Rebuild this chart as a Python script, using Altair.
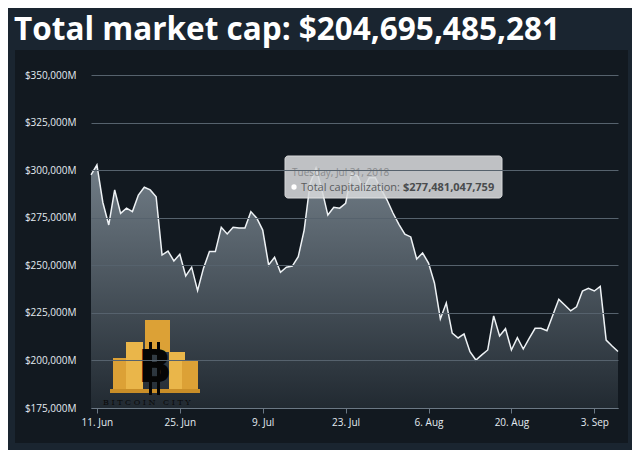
import altair as alt
import pandas as pd

# ---- data (values in $ millions, daily from 10 Jun 2018) ----
START_DATE = "2018-06-10"
MARKET_CAP_M = [
    297500, 302700, 283000, 271200, 289600, 277300, 280000, 278200, 286900, 291000,
    289600, 286000, 255400, 257500, 252300, 255800, 244400, 249000, 236700, 248500,
    257200, 257200, 270000, 266500, 270000, 269600, 269600, 278200, 274700, 268500,
    250200, 254200, 246300, 249000, 249600, 254500, 268500, 293000, 301000, 289600,
    276400, 280500, 280000, 282600, 298000, 297000, 290000, 296000, 296000, 290000,
    284300, 277481, 271500, 266400, 264900, 253300, 256500, 251200, 240700, 221800,
    230200, 214400, 211800, 213900, 204600, 200200, 202900, 205500, 223400, 212900,
    216700, 205500, 212000, 206000, 211600, 216900, 216900, 215600, 223900, 232100,
    229100, 226100, 228200, 236500, 237900, 236500, 238900, 210700, 207600, 204695,
]
Y_TICKS = [175000, 200000, 225000, 250000, 275000, 300000, 325000, 350000]
X_TICK_DAYS = [(6, 11), (6, 25), (7, 9), (7, 23), (8, 6), (8, 20), (9, 3)]
TITLE = "Total market cap: $204,695,485,281"
TIP_DATE = "Tuesday, Jul 31, 2018"
TIP_LABEL = "Total capitalization:"
TIP_VALUE = "$277,481,047,759"
LOGO_TEXT = "\u00a0".join("BITCOIN") + "\u00a0\u00a0\u00a0" + "\u00a0".join("CITY")

dates = pd.date_range(START_DATE, periods=len(MARKET_CAP_M), freq="D")
df = pd.DataFrame({"date": dates.strftime("%Y-%m-%d"), "cap": MARKET_CAP_M})
one = pd.DataFrame({"k": [0]})

FONT = "Open Sans"
LABEL_COLOR = "#e4ebf1"

x_enc = alt.X(
    "date:T",
    scale=alt.Scale(
        type="utc",
        domain=[alt.DateTime(year=2018, month=6, date=10, utc=True),
                alt.DateTime(year=2018, month=9, date=7, utc=True)],
        nice=False,
    ),
    axis=alt.Axis(
        values=[alt.DateTime(year=2018, month=m, date=d, utc=True) for m, d in X_TICK_DAYS],
        labelExpr="utcFormat(datum.value, '%-d. %b')",
        grid=False, domainColor="#6b7884", tickColor="#6b7884", tickSize=5,
        labelColor=LABEL_COLOR, labelFontSize=10, labelFont=FONT, labelPadding=4,
        zindex=1,
    ),
    title=None,
)
y_enc = alt.Y(
    "cap:Q",
    scale=alt.Scale(domain=[175000, 350000], nice=False, zero=False),
    axis=alt.Axis(
        values=Y_TICKS,
        labelExpr="'$' + format(datum.value, ',') + 'M'",
        ticks=False, domain=False, gridColor="#56626d", gridWidth=1,
        labelColor=LABEL_COLOR, labelFontSize=10, labelFont=FONT, labelPadding=15,
        zindex=1,
    ),
    title=None,
)


def rect(x, x2, y, y2, color, opacity=1.0, radius=0, stroke=None):
    kw = dict(color=color, opacity=opacity, cornerRadius=radius)
    if stroke:
        kw.update(stroke=stroke, strokeWidth=1)
    return alt.Chart(one).mark_rect(**kw).encode(
        x=alt.value(x), x2=alt.value(x2), y=alt.value(y), y2=alt.value(y2))


def text(x, y, s, size, color, weight="normal", font=FONT, align="left", baseline="alphabetic"):
    return alt.Chart(one).mark_text(
        fontSize=size, color=color, fontWeight=weight, font=font,
        align=align, baseline=baseline,
    ).encode(x=alt.value(x), y=alt.value(y), text=alt.value(s))


panel = rect(-76, 537, -25, 368, "#121920")

area = alt.Chart(df).mark_area(
    interpolate="linear",
    line={"color": "#eef2f5", "strokeWidth": 1.5},
    color=alt.Gradient(
        gradient="linear",
        stops=[alt.GradientStop(color="#9aa8b3", offset=0),
               alt.GradientStop(color="#283139", offset=1)],
        x1=1, x2=1, y1=0, y2=1,
    ),
).encode(x=x_enc, y=y_enc, y2=alt.datum(175000))

gold = "#dca136"
gold2 = "#eab64a"
logo = [
    rect(22, 35, 283, 317, gold),
    rect(35, 52, 267, 317, gold2),
    rect(54, 79, 245, 277, gold),
    rect(78, 94, 277, 317, gold2),
    rect(91, 107, 285, 317, gold),
    rect(19, 109, 314, 318, "#c98e28"),
    rect(58, 61, 267, 320, "#050505"),
    rect(66, 69, 267, 320, "#050505"),
    text(64, 294, "B", 44, "#050505", weight="bold", font="DejaVu Sans",
         align="center", baseline="middle"),
    text(12, 330, LOGO_TEXT, 8, "#0a0a0a", font="DejaVu Serif"),
]

tooltip = [
    rect(194, 411, 81, 123, "#d7d9db", opacity=0.88, radius=3, stroke="#f2f2f2"),
    text(201, 101, TIP_DATE, 10, "#8a8c8e"),
    alt.Chart(one).mark_circle(color="#ffffff", opacity=1, size=28).encode(
        x=alt.value(203), y=alt.value(112)),
    text(309, 116, TIP_LABEL, 11, "#5a5c5e", align="right"),
    text(312, 116, TIP_VALUE, 11, "#4a4c4e", weight="bold"),
]

title = text(-77, -35, TITLE, 31.5, "#ffffff", weight="bold")

chart = alt.layer(panel, area, *logo, *tooltip, title).properties(
    width=527, height=333,
    autosize=alt.AutoSizeParams(type="none"),
    padding={"left": 83, "top": 67, "right": 14, "bottom": 42},
    background="#1a2530",
).configure_view(strokeWidth=0)

chart.save("out.html", embed_options={"renderer": "svg", "actions": False})
